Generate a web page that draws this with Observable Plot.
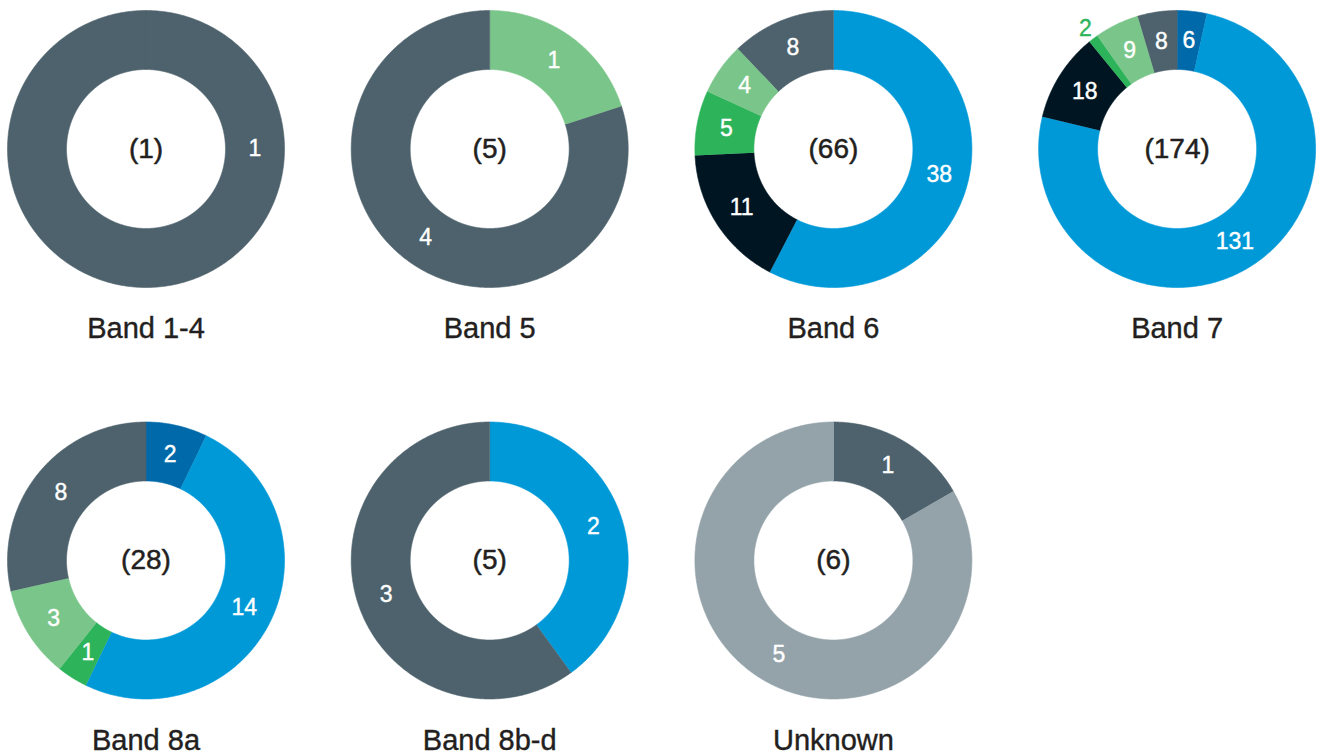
<!DOCTYPE html>
<html><head><meta charset="utf-8">
<script src="https://cdn.jsdelivr.net/npm/d3@7"></script>
<script src="https://cdn.jsdelivr.net/npm/@observablehq/plot@0.6"></script>
<style>
html,body{margin:0;padding:0;background:#fff;}
#chart{width:1322px;height:756px;overflow:hidden;}
</style></head><body><div id="chart"></div>
<script>
// ---- data ----
const bands = ["Band 1-4", "Band 5", "Band 6", "Band 7", "Band 8a", "Band 8b-d", "Unknown"];
const categories = ["Category 1", "Category 2", "Category 3", "Category 4", "Category 5", "Category 6", "Category 7"];
const colors = ["#0069AA", "#0099D8", "#001522", "#2DB35A", "#7AC68A", "#4D626C", "#94A3AA"];
// values per category, aligned with bands
const cat1 = [0, 0, 0, 6, 2, 0, 0];
const cat2 = [0, 0, 38, 131, 14, 2, 0];
const cat3 = [0, 0, 11, 18, 0, 0, 0];
const cat4 = [0, 0, 5, 2, 1, 0, 0];
const cat5 = [0, 1, 4, 9, 3, 0, 0];
const cat6 = [1, 4, 8, 8, 8, 3, 1];
const cat7 = [0, 0, 0, 0, 0, 0, 5];
const series = [cat1, cat2, cat3, cat4, cat5, cat6, cat7];

// ---- layout ----
const W = 1322, H = 756, COLS = 4;
const X0 = 145.5, DX = 343.7, Y0 = 148.5, DY = 411.5;
const R_OUT = 138.5, R_IN = 79.5, TITLE_DY = 180;

const polys = [], labels = [], centers = [];
bands.forEach((band, i) => {
  const cx = X0 + (i % COLS) * DX, cy = Y0 + Math.floor(i / COLS) * DY;
  const vals = categories.map((c, k) => ({category: c, value: series[k][i]})).filter(d => d.value > 0);
  const total = d3.sum(vals, d => d.value);
  const arcs = d3.pie().sort(null).value(d => d.value)(vals);
  arcs.forEach(a => {
    const category = a.data.category;
    const id = band + "|" + category;
    const span = a.endAngle - a.startAngle;
    const n = Math.max(2, Math.ceil(span / (Math.PI / 360)));
    for (let s = 0; s <= n; s++) {
      const t = a.startAngle + span * s / n;
      polys.push({id, category, x: cx + R_OUT * Math.sin(t), y: cy - R_OUT * Math.cos(t)});
    }
    for (let s = n; s >= 0; s--) {
      const t = a.startAngle + span * s / n;
      polys.push({id, category, x: cx + R_IN * Math.sin(t), y: cy - R_IN * Math.cos(t)});
    }
    const full = span >= 2 * Math.PI - 1e-6;
    const mid = full ? Math.PI / 2 : (a.startAngle + a.endAngle) / 2;
    const small = a.value / total < 0.02;
    const rl = small ? R_OUT + 13 : (R_OUT + R_IN) / 2;
    labels.push({x: cx + rl * Math.sin(mid), y: cy - rl * Math.cos(mid), text: String(a.value), category, outside: small});
  });
  centers.push({band, total, x: cx, y: cy, ty: cy + TITLE_DY});
});

const chart = Plot.plot({
  width: W, height: H, margin: 0,
  x: {domain: [0, W], range: [0, W], axis: null},
  y: {domain: [0, H], range: [0, H], axis: null},
  color: {domain: categories, range: colors},
  style: {fontFamily: "'Liberation Sans', Arial, Helvetica, sans-serif", background: "white"},
  marks: [
    Plot.line(polys, {x: "x", y: "y", z: "id", fill: "category", stroke: "category", strokeWidth: 0.6, curve: "linear"}),
    Plot.text(labels.filter(d => !d.outside), {x: "x", y: "y", text: "text", fill: "white", stroke: "white", strokeWidth: 0.4, fontSize: 23}),
    Plot.text(labels.filter(d => d.outside), {x: "x", y: "y", text: "text", fill: "category", stroke: "category", strokeWidth: 0.4, fontSize: 23}),
    Plot.text(centers, {x: "x", y: "y", text: d => `(${d.total})`, fill: "#231F20", stroke: "#231F20", strokeWidth: 0.5, fontSize: 28}),
    Plot.text(centers, {x: "x", y: "ty", text: "band", fill: "#231F20", stroke: "#231F20", strokeWidth: 0.4, fontSize: 29})
  ]
});
document.getElementById("chart").appendChild(chart);
</script>
</body></html>
